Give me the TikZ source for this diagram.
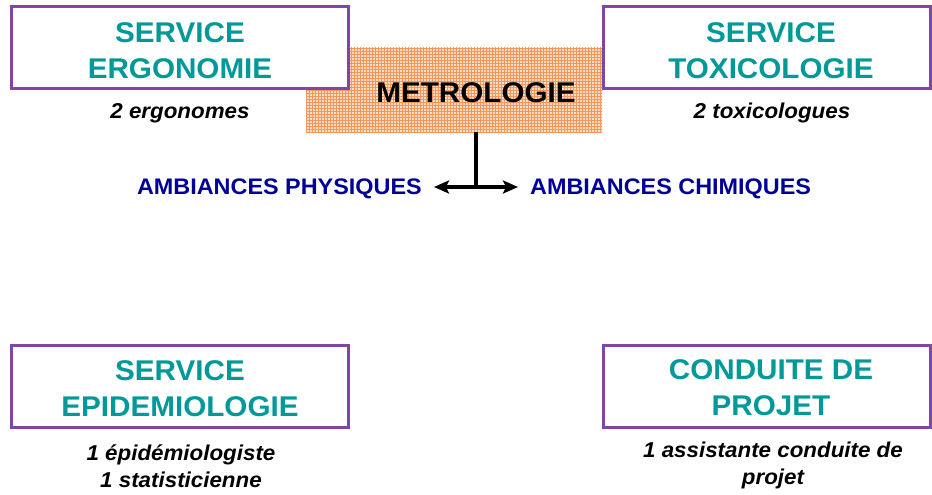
\documentclass[tikz,border=0pt]{standalone}
\usepackage{fontspec}
\setmainfont[FakeStretch=1.04]{Liberation Sans}
\usetikzlibrary{patterns,arrows.meta}
\definecolor{tealt}{RGB}{0,153,153}
\definecolor{purp}{RGB}{128,70,165}
\definecolor{navyt}{RGB}{0,0,153}
\definecolor{orl}{RGB}{253,222,196}
\definecolor{ord}{RGB}{246,150,90}
\begin{document}
\begin{tikzpicture}[x=1pt,y=-1pt,
  svcbox/.style={draw=purp,line width=3pt,fill=white,inner sep=0pt,
    minimum width=337pt,minimum height=82pt},
  title/.style={text=tealt,font=\fontsize{28.5}{36}\selectfont\bfseries,align=center,inner sep=0pt},
  staff/.style={font=\fontsize{21.5}{27}\selectfont\bfseries\itshape,align=center,inner sep=0pt},
  amb/.style={text=navyt,font=\fontsize{22.5}{25}\selectfont\bfseries,inner sep=0pt},
  link/.style={line width=3.5pt},
  arr/.style={line width=3.5pt,-{Stealth[length=15pt,width=13pt,inset=3pt]}}]
\useasboundingbox (0,0) rectangle (932,495);
% metrology zone
\node (metrobox) [minimum width=296pt,minimum height=84pt,inner sep=0pt,
  preaction={fill=orl},pattern=grid,pattern color=ord] at (454,90) {};
% service boxes
\node (ergo) [svcbox] at (180,47.5) {};
\node (toxi) [svcbox,minimum width=327pt] at (767,47.5) {};
\node (epid) [svcbox] at (180,386.5) {};
\node (proj) [svcbox,minimum width=327pt] at (767,386.5) {};
\node (ergot) [title] at (180,51) {SERVICE\\ERGONOMIE};
\node (toxit) [title] at (771,51) {SERVICE\\TOXICOLOGIE};
\node (epidt) [title] at (180,388.5) {SERVICE\\EPIDEMIOLOGIE};
\node (projt) [title] at (771,387.5) {CONDUITE DE\\PROJET};
% staff labels
\node (ergos) [staff] at (180,113) {2 ergonomes};
\node (toxis) [staff] at (772,113) {2 toxicologues};
\node (epids) [staff] at (181,466) {1 épidémiologiste\\1 statisticienne};
\node (projs) [staff] at (773,465) {1 assistante conduite de\\projet};
% metrology
\node (metro) [font=\fontsize{28.5}{30}\selectfont\bfseries,inner sep=0pt] at (476,93) {METROLOGIE};
\node (phys) [amb,anchor=east] at (422,189) {AMBIANCES PHYSIQUES};
\node (chim) [amb,anchor=west] at (530,189) {AMBIANCES CHIMIQUES};
\coordinate (junction) at (476,187);
\draw[link] (metrobox.south -| junction) -- (junction);
\draw[arr] (junction) -- ([xshift=12pt]phys.east |- junction);
\draw[arr] (junction) -- ([xshift=-12pt]chim.west |- junction);
\end{tikzpicture}
\end{document}
